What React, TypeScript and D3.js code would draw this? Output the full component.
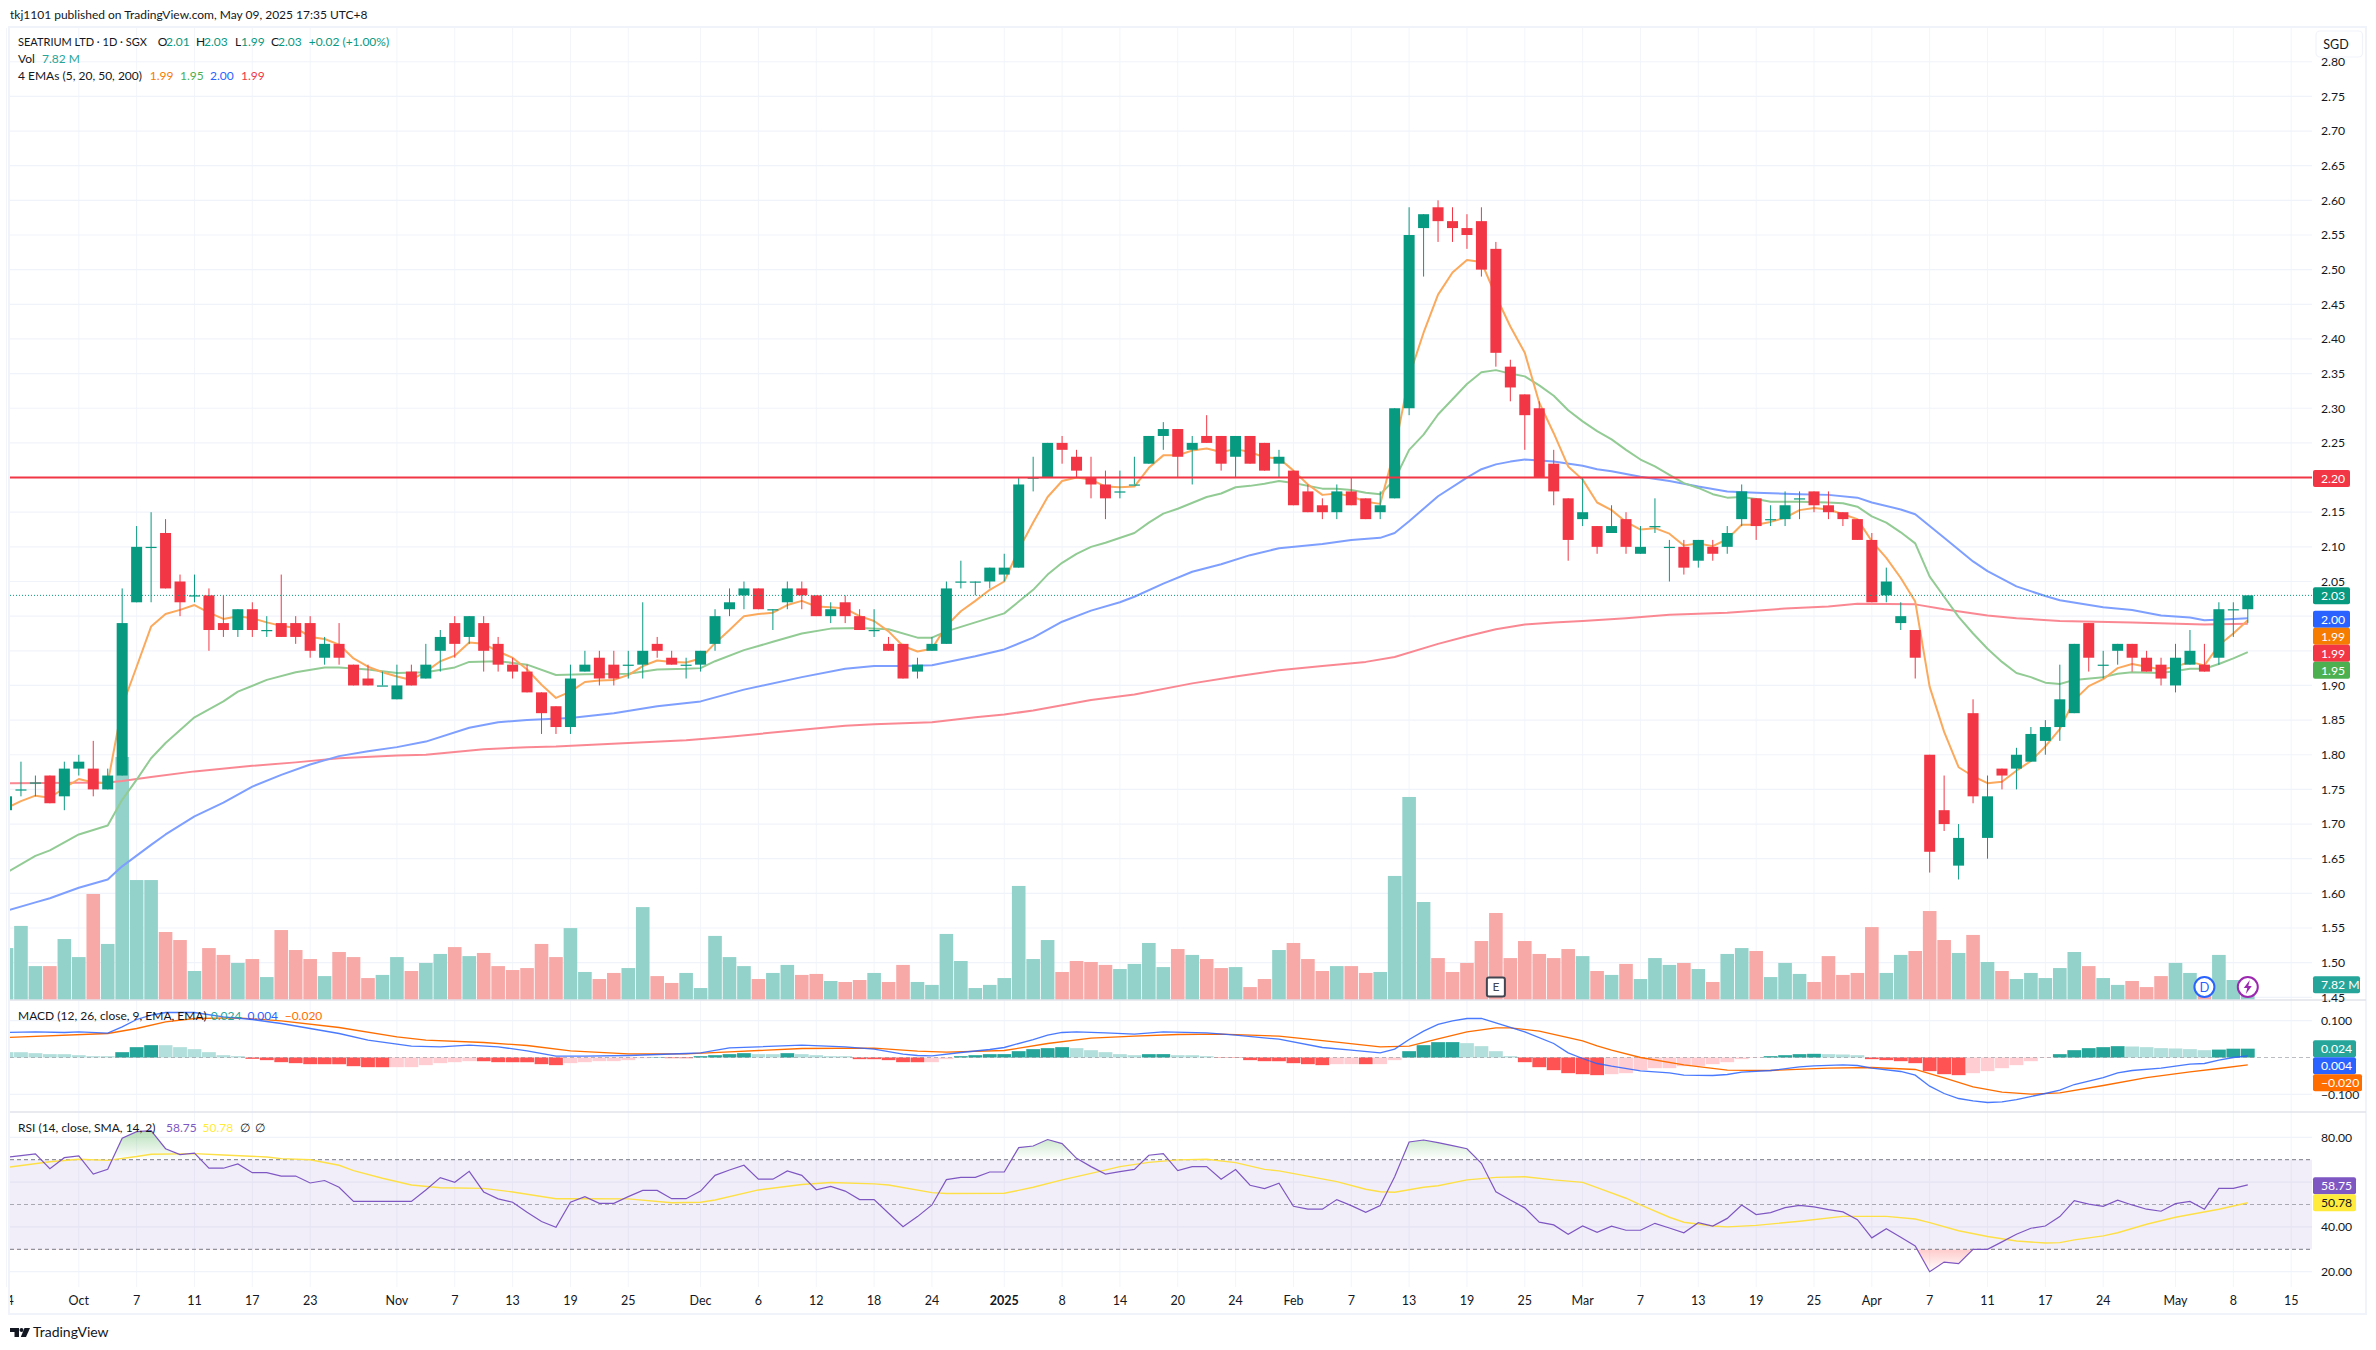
import { useEffect, useRef } from "react";
import * as d3 from "d3";

// daily candles, first bar is 24 Sep 2024, last is 9 May 2025
const opens = [1.72,1.75,1.76,1.77,1.74,1.78,1.78,1.75,1.77,2.02,2.10,2.12,2.05,2.03,2.03,1.99,1.98,2.01,1.98,1.99,1.99,1.99,1.94,1.96,1.93,1.91,1.90,1.88,1.92,1.91,1.95,1.99,1.97,1.99,1.96,1.93,1.92,1.89,1.87,1.84,1.92,1.94,1.93,1.93,1.93,1.96,1.94,1.93,1.93,1.96,2.01,2.03,2.04,2.01,2.02,2.04,2.03,2.00,2.02,2.00,1.98,1.96,1.96,1.92,1.95,1.96,2.05,2.05,2.05,2.06,2.07,2.20,2.20,2.25,2.23,2.20,2.19,2.18,2.19,2.22,2.26,2.27,2.24,2.26,2.26,2.23,2.26,2.25,2.22,2.21,2.18,2.16,2.15,2.18,2.17,2.15,2.17,2.30,2.56,2.59,2.57,2.56,2.57,2.53,2.36,2.32,2.30,2.22,2.17,2.14,2.13,2.12,2.14,2.09,2.13,2.10,2.10,2.08,2.10,2.10,2.14,2.17,2.14,2.14,2.17,2.18,2.16,2.15,2.14,2.11,2.03,1.99,1.98,1.80,1.72,1.64,1.86,1.68,1.78,1.78,1.79,1.82,1.84,1.86,1.99,1.93,1.95,1.96,1.94,1.93,1.90,1.93,1.93,1.94,2.01,2.01];
const highs = [1.74,1.79,1.77,1.77,1.79,1.80,1.82,1.78,2.04,2.13,2.15,2.14,2.06,2.06,2.04,2.03,2.01,2.02,2.00,2.06,2.00,2.00,1.97,1.99,1.93,1.93,1.92,1.93,1.93,1.96,1.98,2.00,2.00,2.00,1.97,1.94,1.93,1.89,1.87,1.93,1.95,1.95,1.95,1.95,2.02,1.97,1.95,1.94,1.95,2.01,2.04,2.05,2.04,2.01,2.05,2.05,2.03,2.02,2.03,2.01,2.01,1.97,1.96,1.94,1.97,2.05,2.08,2.05,2.07,2.09,2.20,2.23,2.25,2.26,2.24,2.23,2.21,2.21,2.23,2.26,2.28,2.27,2.26,2.29,2.26,2.26,2.26,2.25,2.24,2.21,2.19,2.17,2.19,2.20,2.17,2.18,2.30,2.59,2.58,2.60,2.59,2.58,2.59,2.54,2.37,2.32,2.31,2.24,2.17,2.20,2.13,2.16,2.15,2.13,2.17,2.11,2.11,2.11,2.11,2.13,2.19,2.17,2.16,2.18,2.18,2.18,2.18,2.15,2.14,2.12,2.07,2.02,1.98,1.80,1.77,1.70,1.88,1.77,1.78,1.81,1.84,1.85,1.93,1.96,1.99,1.95,1.96,1.96,1.95,1.94,1.96,1.98,1.96,2.02,2.02,2.03];
const lows = [1.72,1.74,1.74,1.73,1.72,1.77,1.74,1.75,1.77,2.02,2.02,2.04,2.00,2.02,1.95,1.97,1.97,1.97,1.97,1.97,1.96,1.94,1.93,1.93,1.90,1.90,1.90,1.88,1.90,1.91,1.92,1.94,1.96,1.92,1.92,1.91,1.89,1.83,1.83,1.83,1.92,1.90,1.90,1.91,1.91,1.94,1.93,1.91,1.92,1.95,2.00,2.01,2.01,1.98,2.01,2.01,2.00,1.99,1.99,1.98,1.97,1.95,1.91,1.91,1.95,1.96,2.04,2.03,2.04,2.05,2.07,2.18,2.20,2.22,2.20,2.17,2.14,2.17,2.19,2.22,2.24,2.20,2.19,2.25,2.21,2.20,2.22,2.21,2.20,2.16,2.15,2.14,2.14,2.16,2.14,2.14,2.17,2.29,2.49,2.54,2.54,2.53,2.49,2.36,2.31,2.24,2.20,2.16,2.08,2.13,2.09,2.12,2.09,2.09,2.12,2.05,2.06,2.07,2.08,2.09,2.13,2.11,2.13,2.13,2.14,2.15,2.14,2.13,2.11,2.02,2.02,1.98,1.91,1.63,1.69,1.62,1.73,1.65,1.75,1.75,1.79,1.80,1.82,1.86,1.92,1.91,1.93,1.92,1.92,1.90,1.89,1.93,1.92,1.93,1.97,1.99];
const closes = [1.74,1.75,1.76,1.73,1.78,1.79,1.75,1.77,1.99,2.10,2.10,2.04,2.02,2.03,1.98,1.98,2.01,1.98,1.98,1.97,1.97,1.95,1.96,1.94,1.90,1.90,1.90,1.90,1.90,1.93,1.97,1.96,2.00,1.95,1.93,1.92,1.89,1.86,1.84,1.91,1.93,1.91,1.91,1.93,1.95,1.95,1.93,1.93,1.95,2.00,2.02,2.04,2.01,2.01,2.04,2.03,2.00,2.01,2.00,1.98,1.98,1.95,1.91,1.93,1.96,2.04,2.05,2.05,2.07,2.07,2.19,2.20,2.25,2.24,2.21,2.19,2.17,2.18,2.19,2.26,2.27,2.23,2.25,2.25,2.22,2.26,2.22,2.21,2.23,2.16,2.15,2.15,2.18,2.16,2.14,2.16,2.30,2.55,2.58,2.57,2.56,2.55,2.50,2.38,2.33,2.29,2.20,2.18,2.11,2.15,2.10,2.13,2.10,2.10,2.13,2.10,2.07,2.11,2.09,2.12,2.18,2.13,2.14,2.16,2.17,2.16,2.15,2.14,2.11,2.02,2.05,2.00,1.94,1.66,1.70,1.68,1.74,1.74,1.77,1.80,1.83,1.84,1.88,1.96,1.94,1.93,1.96,1.94,1.92,1.91,1.94,1.95,1.92,2.01,2.01,2.03];

// volume in millions, one per bar
const volumes = [26.5,37.8,17.3,17.3,31.1,21.9,54.1,28.6,124,61.2,61.2,34.7,30.6,14.8,26.5,23,18.9,20.9,11.7,35.7,25.5,20.9,12.2,24.5,21.9,11.2,12.8,21.9,14.8,18.9,23.5,27,22.4,24,17.3,15.3,16.3,28.6,21.9,36.7,14.3,10.7,13.8,16.3,47.4,12.2,8.7,13.8,6.1,32.7,21.9,17.3,10.7,13.8,17.9,12.8,13.3,9.7,9.2,10.2,13.8,9.2,17.9,9.2,7.7,33.7,19.9,6.1,7.7,11.2,58.2,20.9,30.6,14.3,19.9,19.4,17.9,15.8,18.4,29.1,16.8,26,23,20.9,16.3,16.8,6.6,10.7,25.5,29.1,20.9,14.8,17.3,17.3,13.8,14.3,63.3,103.6,50,21.4,14.3,18.9,30.1,44.4,21.4,30.1,23.5,21.4,26,22.4,14.8,12.8,18.4,10.7,21.4,17.9,18.9,15.8,9.2,23.5,26.5,25,11.7,18.9,13.3,9.2,22.4,12.8,13.8,37.2,13.8,23,25,45.4,30.6,24,33.2,19.4,14.8,10.7,13.8,11.2,16.3,24.5,17.3,11.2,7.7,9.7,6.6,12.2,18.9,13.8,6.6,23,10.2,7.82];

const ema5 = [1.723,1.733,1.741,1.738,1.752,1.765,1.76,1.759,1.87,1.927,1.985,2.003,2.009,2.016,2.005,1.996,2.0,1.997,1.991,1.986,1.983,1.97,1.967,1.959,1.939,1.927,1.919,1.913,1.908,1.92,1.935,1.943,1.962,1.96,1.949,1.94,1.923,1.901,1.882,1.891,1.905,1.907,1.908,1.915,1.928,1.936,1.934,1.933,1.939,1.961,1.98,2.0,2.003,2.005,2.016,2.022,2.014,2.013,2.011,2.0,1.993,1.978,1.957,1.949,1.953,1.986,2.007,2.022,2.038,2.05,2.096,2.135,2.172,2.195,2.2,2.197,2.187,2.186,2.187,2.214,2.232,2.232,2.239,2.242,2.237,2.241,2.237,2.229,2.228,2.21,2.19,2.175,2.177,2.173,2.165,2.162,2.24,2.346,2.409,2.464,2.496,2.514,2.511,2.462,2.418,2.38,2.308,2.264,2.216,2.197,2.164,2.153,2.136,2.125,2.127,2.119,2.102,2.105,2.101,2.111,2.132,2.132,2.136,2.142,2.153,2.156,2.154,2.147,2.14,2.108,2.084,2.055,2.021,1.898,1.833,1.782,1.769,1.759,1.761,1.777,1.791,1.812,1.837,1.879,1.899,1.909,1.925,1.931,1.927,1.923,1.927,1.934,1.929,1.958,1.975,1.994];

const ema20Idx = [0,2,3,5,7,8,9,10,11,13,15,16,18,20,22,23,25,27,29,31,32,34,36,38,40,43,45,47,48,49,51,53,55,57,59,61,63,64,65,67,69,71,72,73,74,75,76,78,79,80,81,83,84,85,86,87,88,89,91,92,93,94,95,96,97,98,99,100,101,102,103,104,105,106,107,108,109,110,111,112,113,114,115,116,117,118,119,120,121,122,124,126,127,128,129,130,131,132,133,134,135,136,137,138,139,140,141,142,143,145,146,147,149,150,151,152,153,154,155];
const ema20 = [1.63,1.654,1.662,1.685,1.698,1.735,1.764,1.795,1.817,1.854,1.877,1.891,1.908,1.919,1.926,1.926,1.923,1.918,1.919,1.926,1.934,1.935,1.93,1.915,1.916,1.917,1.923,1.924,1.925,1.935,1.951,1.963,1.975,1.982,1.983,1.981,1.969,1.969,1.978,1.991,2.004,2.038,2.06,2.077,2.09,2.10,2.106,2.12,2.135,2.148,2.155,2.172,2.177,2.186,2.188,2.191,2.195,2.192,2.184,2.184,2.182,2.178,2.176,2.197,2.24,2.262,2.291,2.313,2.335,2.352,2.355,2.35,2.346,2.333,2.318,2.297,2.281,2.267,2.255,2.24,2.226,2.216,2.204,2.192,2.185,2.176,2.171,2.172,2.169,2.165,2.165,2.164,2.163,2.158,2.144,2.135,2.121,2.105,2.057,2.028,1.999,1.975,1.953,1.934,1.918,1.912,1.904,1.902,1.908,1.912,1.917,1.919,1.918,1.921,1.924,1.924,1.931,1.939,1.948];

const ema50Idx = [0,2,3,5,7,8,10,11,13,15,17,19,21,23,25,27,29,32,34,36,39,42,45,48,51,55,58,60,62,64,67,69,71,73,75,77,78,80,82,84,86,88,91,93,95,96,97,99,101,102,103,104,105,107,109,110,111,113,115,117,119,121,124,126,128,129,131,132,133,134,136,137,139,141,142,145,147,149,151,152,154,155];
const ema50 = [1.575,1.587,1.593,1.608,1.62,1.639,1.67,1.685,1.711,1.731,1.754,1.771,1.786,1.798,1.805,1.811,1.819,1.839,1.847,1.85,1.853,1.86,1.87,1.877,1.894,1.912,1.924,1.928,1.928,1.929,1.942,1.952,1.969,1.992,2.008,2.02,2.028,2.047,2.064,2.075,2.088,2.098,2.104,2.11,2.113,2.12,2.137,2.173,2.2,2.212,2.219,2.223,2.226,2.223,2.217,2.212,2.209,2.201,2.195,2.187,2.18,2.178,2.176,2.175,2.171,2.164,2.154,2.147,2.13,2.113,2.079,2.065,2.043,2.029,2.023,2.013,2.009,2.001,1.998,1.994,1.996,1.997];

const ema200Idx = [0,7,8,10,13,17,20,23,27,29,31,33,36,38,43,47,50,55,58,60,64,67,69,71,75,78,82,85,88,91,94,96,99,101,103,105,107,109,112,115,119,123,126,128,132,134,137,139,142,147,152,155];
const ema200 = [1.759,1.76,1.762,1.768,1.776,1.784,1.789,1.795,1.799,1.80,1.804,1.808,1.811,1.812,1.817,1.821,1.826,1.836,1.842,1.844,1.847,1.854,1.858,1.864,1.879,1.887,1.903,1.913,1.922,1.928,1.934,1.941,1.96,1.971,1.981,1.988,1.991,1.993,1.997,2.002,2.005,2.011,2.014,2.018,2.017,2.01,2.001,1.997,1.993,1.991,1.988,1.989];

// MACD pane, values in thousandths
const macdHist = [14.5,14.4,11.8,9.1,9.0,6.3,3.6,3.5,14.5,28.1,33.5,33.4,28.1,22.7,14.5,6.3,3.6,-3.6,-7.2,-12.7,-15.4,-18.1,-18.2,-18.3,-23.6,-26.3,-26.4,-26.3,-26.2,-20.8,-15.4,-12.7,-10,-10.1,-12.7,-12.8,-12.9,-18.1,-20.8,-15.4,-12.7,-10,-9.9,-7.2,-1.8,0.9,-1.8,-1.9,3.6,6.3,9.1,11.8,9.1,9.0,11.8,9.1,6.3,3.6,3.5,-4.5,-4.6,-7.2,-12.7,-12.8,-12.7,-4.5,3.6,6.3,9.1,9.2,17.2,22.7,25.4,28.1,25.4,19.9,14.5,9.1,6.3,9.1,9.2,6.3,6.2,3.6,-0.9,-1,-7.2,-10,-10.1,-15.4,-18.1,-20.8,-18.1,-18,-18.1,-18,-7.2,17.2,33.5,41.7,41.8,39,30.8,17.2,3.6,-12.7,-26.3,-34.4,-42.6,-45.3,-48,-45.3,-42.6,-34.4,-29,-28.9,-23.6,-22.7,-18.1,-12.7,-4.5,-0.9,3.6,6.3,9.1,10,9.1,8.2,6.3,-4.5,-7.2,-10,-15.4,-37.1,-45.3,-48,-42.6,-37.1,-29,-20.8,-10,-0.9,9.1,19.9,25.4,28.1,30.8,29.9,28.1,25.4,24.5,22.7,19.9,21.5,23.9,24];

const macdIdx = [0,2,4,5,7,8,9,10,11,13,15,17,19,21,23,25,27,28,30,32,34,36,38,40,43,45,47,48,50,52,55,58,60,62,63,64,66,68,69,71,72,73,74,76,78,80,83,85,88,91,93,95,96,97,98,99,100,101,102,103,105,107,108,109,110,111,113,115,116,118,119,120,122,124,125,127,128,129,131,132,133,134,135,136,137,138,139,141,142,143,145,146,147,149,151,152,153,154,155];
const macdLine = [68,69.8,68,69.8,66.1,83.4,103.3,115,122.3,122.3,110.5,103.3,92.4,78.8,65.2,47.1,36.2,30.8,29,33.5,29,18.1,3.6,3.6,5.4,8.2,10.9,12.7,26.3,29,33.5,29,22.7,9.1,5.4,4.5,13.6,21.7,27.2,48.9,60.7,68,69.8,67,63.4,69.8,67,60.7,49.8,27.2,19.9,12.7,22.7,48.9,71.6,89.7,99.7,106,106,94.2,69.8,38,12.7,-2.7,-16.3,-23.6,-36.2,-41.7,-48,-48.9,-46.2,-39.9,-35.3,-25.4,-22.7,-19.9,-21.7,-29,-38,-48,-77.9,-97.8,-111.4,-117.8,-122.3,-120.5,-114.2,-97.8,-88.8,-73.4,-54.4,-41.7,-35.3,-29,-18.1,-16.3,-7.2,0,4.5];

const signalIdx = [0,7,9,11,13,16,19,23,27,29,33,36,39,43,47,50,55,60,63,65,69,72,75,78,81,84,88,92,95,97,99,101,103,104,106,109,110,111,113,116,119,122,126,129,132,134,136,138,140,142,145,148,151,153,155];
const signalLine = [54.4,65.2,78.8,96.9,106,107.8,99.7,81.5,56.2,47.1,40.8,32.6,18.1,10,10,15.4,24.5,25.4,17.2,14.5,19,38,52.5,58,62.5,63.4,58,41.7,29,30.8,50.7,69.8,80.6,80.6,71.6,45.3,31.7,19.9,0,-19.9,-34.4,-35.3,-29,-27.2,-32.6,-55.3,-79.7,-94.2,-99.7,-96,-76.1,-54.4,-39,-29.9,-20];

// RSI pane
const rsi = [71.1,71.8,72.6,66,70.9,71.7,63.6,65.7,79.6,82.5,83,74.9,72.3,72.9,66.2,66.2,68.1,64.2,64.2,62.7,62.7,59.6,60.7,57.7,51.4,51.4,51.4,51.4,51.4,56.5,62,59.9,64.8,55.6,52.5,51,46.5,42.4,39.8,51,53.5,50.5,50.5,53.5,56.3,56.3,52.6,52.6,56,63,65.4,67.5,61.3,61.3,65,63,56.6,58.1,56,52.2,52.2,46.1,40.1,44.6,49.8,61.1,62.1,62.1,64.5,64.5,75.4,76.1,79,77.2,70.6,66.9,63.6,64.7,65.7,72,72.7,65.1,66.9,66.9,61.3,65.6,58.6,57.1,59.5,49.2,47.9,47.9,52.2,49.5,46.5,49.5,62.4,77.9,78.8,77.6,76.3,74.9,68.4,55.7,52,48.5,42.1,40.9,36.7,40.4,37.6,40.3,38.5,38.5,41.6,39.5,37.4,41.9,40.4,43.8,49.8,45.5,46.4,48.6,49.6,48.9,47.7,46.7,43.2,35.1,39.2,35.4,31.5,20,24.3,23.6,30,30,33.3,36.7,39.4,40.4,44.6,51.7,50.2,49.2,51.9,49.8,47.9,47,50.4,51.4,47.9,57.2,57.2,58.75];

const rsiMaIdx = [0,3,5,7,9,10,12,13,15,18,19,21,23,24,26,28,30,33,35,38,40,43,46,48,49,52,55,57,60,61,64,65,69,71,73,75,77,79,81,83,85,87,88,92,94,95,96,98,99,101,103,105,107,109,110,112,113,115,116,118,119,121,124,127,130,132,133,135,137,139,141,142,143,145,146,148,150,153,155];
const rsiMa = [66.5,69.1,70.2,69.7,71.4,72.4,72.6,72.7,72.1,71.2,70.5,70,67.5,65.1,61.7,58.7,57.5,57.2,55.6,52.6,52.6,52.5,50.8,51,52,56.5,58.9,59.8,59.2,58.7,55.3,54.9,55,57.7,61,63.9,66.9,68.8,69.9,70.2,68.7,65.7,65,60.2,56.8,55.7,55.5,57.7,58.4,61,62.1,62.4,61,59.9,57.5,52.8,49.8,44.3,42.1,40.4,40,40.7,42.5,44.7,44.7,43.5,41.9,38.3,35.7,33.7,32.8,33,34.2,36,37.4,41.2,44.3,47.9,50.78];

// axis labels
const priceTicks = [2.8,2.75,2.7,2.65,2.6,2.55,2.5,2.45,2.4,2.35,2.3,2.25,2.2,2.15,2.1,2.05,2.0,1.95,1.9,1.85,1.8,1.75,1.7,1.65,1.6,1.55,1.5,1.45];
const macdTicks = [100,-100];
const rsiTicks = [80,60,40,20];
const timeIdx = [0,5,9,13,17,21,27,31,35,39,43,48,52,56,60,64,69,73,77,81,85,89,93,97,101,105,109,113,117,121,125,129,133,137,141,145,150,154,158];
const timeLabels = ["24","Oct","7","11","17","23","Nov","7","13","19","25","Dec","6","12","18","24","2025","8","14","20","24","Feb","7","13","19","25","Mar","7","13","19","25","Apr","7","11","17","24","May","8","15"];

const FONT = "Lato, sans-serif";
const UP = "#089981";
const DOWN = "#F23645";
const INK = "#131722";

export default function App() {
  const svgRef = useRef<SVGSVGElement>(null);

  useEffect(() => {
    if (!svgRef.current) return;
    const width = 2376;
    const height = 1350;
    const left = 10;
    const right = 2312;
    const top = 28;
    const mainBottom = 1000;
    const macdBottom = 1112;
    const timeTop = 1287;
    const frameRight = 2366;
    const frameBottom = 1314;

    const svg = d3.select(svgRef.current).attr("viewBox", `0 0 ${width} ${height}`);
    svg.selectAll("*").remove();
    svg.append("rect").attr("width", width).attr("height", height).attr("fill", "#fff");

    const x = d3.scaleLinear().domain([0, 155]).range([6.5, 2247.8]);
    const y = d3.scaleLinear().domain([2.65, 1.45]).range([165.7, 997.3]);
    const yVol = d3.scaleLinear().domain([0, 124]).range([mainBottom, 757]);
    const yMacd = d3.scaleLinear().domain([100, -100]).range([1020.7, 1094.3]);
    const yRsi = d3.scaleLinear().domain([80, 20]).range([1137.3, 1271.7]);

    const defs = svg.append("defs");
    const clipRect = (id: string, y0: number, y1: number) =>
      defs.append("clipPath").attr("id", id).append("rect")
        .attr("x", left).attr("y", y0).attr("width", right - left).attr("height", y1 - y0);
    clipRect("main", top, mainBottom);
    clipRect("macd", mainBottom, macdBottom);
    clipRect("rsi", macdBottom, timeTop);
    clipRect("over", macdBottom, yRsi(70));
    clipRect("under", yRsi(30), timeTop);
    defs.append("clipPath").attr("id", "timeaxis").append("rect")
      .attr("x", left).attr("y", timeTop).attr("width", frameRight - left).attr("height", frameBottom - timeTop);

    const grad = (id: string, y0: number, y1: number, color: string, a0: number, a1: number) => {
      const g = defs.append("linearGradient").attr("id", id)
        .attr("gradientUnits", "userSpaceOnUse")
        .attr("x1", 0).attr("x2", 0).attr("y1", y0).attr("y2", y1);
      g.append("stop").attr("offset", 0).attr("stop-color", color).attr("stop-opacity", a0);
      g.append("stop").attr("offset", 1).attr("stop-color", color).attr("stop-opacity", a1);
    };
    grad("overFill", yRsi(84), yRsi(70), "#4CAF50", 0.42, 0);
    grad("underFill", yRsi(30), yRsi(20), "#FF5252", 0.3, 0);

    const text = (g: any, tx: number, ty: number, s: string, color: string, size = 12, anchor = "start") =>
      g.append("text")
        .attr("x", tx).attr("y", ty)
        .attr("dy", "0.35em")
        .attr("fill", color)
        .attr("font-size", size)
        .attr("font-family", FONT)
        .attr("text-anchor", anchor)
        .text(s);

    // grid
    const grid = svg.append("g");
    grid.selectAll("line.v").data(timeIdx).enter().append("line")
      .attr("x1", (d) => x(d)).attr("x2", (d) => x(d))
      .attr("y1", top).attr("y2", timeTop)
      .attr("stroke", "#F3F5F9").attr("stroke-width", 1);
    const hGrid = (vals: number[], sc: any) =>
      grid.selectAll(null).data(vals).enter().append("line")
        .attr("x1", left).attr("x2", right)
        .attr("y1", (d) => sc(d)).attr("y2", (d) => sc(d))
        .attr("stroke", "#F0F3FA").attr("stroke-width", 1.2);
    hGrid(priceTicks, y);
    hGrid(macdTicks, yMacd);
    hGrid(rsiTicks, yRsi);

    // volume
    const main = svg.append("g").attr("clip-path", "url(#main)");
    main.selectAll("rect.vol").data(volumes).enter().append("rect")
      .attr("x", (_, i) => x(i) - 6.8).attr("width", 13.6)
      .attr("y", (d) => yVol(d)).attr("height", (d) => mainBottom - yVol(d))
      .attr("fill", (_, i) => (closes[i] >= opens[i] ? "#92D2CA" : "#F7A9A7"));

    // EMAs sit under the candles
    const lineOf = (idx: number[], vals: number[], sy: any) =>
      d3.line<number>().x((_, i) => x(idx[i])).y((d) => sy(d))(vals);
    const barIdx = closes.map((_, i) => i);
    const emaStyles: [number[], number[], string][] = [
      [barIdx, ema5, "#FBA95C"],
      [ema20Idx, ema20, "#92CB94"],
      [ema50Idx, ema50, "#7E9FFF"],
      [ema200Idx, ema200, "#FA8893"],
    ];
    emaStyles.slice().reverse().forEach(([idx, vals, color]) => {
      main.append("path").attr("d", lineOf(idx, vals, y))
        .attr("fill", "none").attr("stroke", color).attr("stroke-width", 2)
        .attr("stroke-linejoin", "round");
    });

    // candles
    const candle = main.selectAll("g.c").data(closes).enter().append("g");
    const colorOf = (i: number) => (closes[i] >= opens[i] ? UP : DOWN);
    candle.append("line")
      .attr("x1", (_, i) => x(i)).attr("x2", (_, i) => x(i))
      .attr("y1", (_, i) => y(highs[i])).attr("y2", (_, i) => y(lows[i]))
      .attr("stroke", (_, i) => colorOf(i)).attr("stroke-width", 1);
    candle.append("rect")
      .attr("x", (_, i) => x(i) - 5.5).attr("width", 11)
      .attr("y", (_, i) => y(Math.max(opens[i], closes[i])))
      .attr("height", (_, i) => Math.max(1.2, Math.abs(y(opens[i]) - y(closes[i]))))
      .attr("fill", (_, i) => colorOf(i));

    // horizontal at 2.20 and last price
    main.append("line").attr("x1", left).attr("x2", right).attr("y1", y(2.2)).attr("y2", y(2.2))
      .attr("stroke", DOWN).attr("stroke-width", 2);
    main.append("line").attr("x1", left).attr("x2", right).attr("y1", y(2.03)).attr("y2", y(2.03))
      .attr("stroke", UP).attr("stroke-width", 1).attr("stroke-dasharray", "1 2");

    // event markers on the volume pane
    const marks = svg.append("g");
    marks.append("rect").attr("x", x(103) - 9).attr("y", 977.5).attr("width", 18).attr("height", 19).attr("rx", 2)
      .attr("fill", "#fff").attr("stroke", "#434651").attr("stroke-width", 2);
    text(marks, x(103), 987, "E", "#434651", 12, "middle");
    marks.append("circle").attr("cx", x(152)).attr("cy", 987).attr("r", 10)
      .attr("fill", "#fff").attr("stroke", "#2962FF").attr("stroke-width", 2);
    text(marks, x(152), 987, "D", "#2962FF", 13, "middle");
    marks.append("circle").attr("cx", x(155)).attr("cy", 987).attr("r", 10)
      .attr("fill", "#fff").attr("stroke", "#9C27B0").attr("stroke-width", 2);
    marks.append("path")
      .attr("transform", `translate(${x(155)},987)`)
      .attr("d", "M2,-7 L-4,1 L-0.5,1 L-2,7 L4,-1 L0.5,-1 Z")
      .attr("fill", "#9C27B0");

    // MACD
    const macd = svg.append("g").attr("clip-path", "url(#macd)");
    macd.selectAll("rect").data(macdHist).enter().append("rect")
      .attr("x", (_, i) => x(i) - 6.9).attr("width", 13.8)
      .attr("y", (d) => Math.min(yMacd(d), yMacd(0)))
      .attr("height", (d) => Math.abs(yMacd(d) - yMacd(0)))
      .attr("fill", (d, i) => {
        const prev = i === 0 ? d + 1 : macdHist[i - 1];
        if (d >= 0) return d >= prev ? "#26A69A" : "#B2DFDB";
        return d < prev ? "#FF5252" : "#FFCDD2";
      });
    macd.append("line").attr("x1", left).attr("x2", right).attr("y1", yMacd(0)).attr("y2", yMacd(0))
      .attr("stroke", "#787B86").attr("stroke-opacity", 0.5).attr("stroke-dasharray", "4 3");
    macd.append("path").attr("d", lineOf(signalIdx, signalLine, yMacd))
      .attr("fill", "none").attr("stroke", "#FF6D00").attr("stroke-width", 1.3);
    macd.append("path").attr("d", lineOf(macdIdx, macdLine, yMacd))
      .attr("fill", "none").attr("stroke", "#2962FF").attr("stroke-width", 1.3).attr("stroke-opacity", 0.85);

    // RSI
    const rsiG = svg.append("g").attr("clip-path", "url(#rsi)");
    rsiG.append("rect").attr("x", left).attr("width", right - left)
      .attr("y", yRsi(70)).attr("height", yRsi(30) - yRsi(70))
      .attr("fill", "#7E57C2").attr("fill-opacity", 0.1);
    const rsiArea = (base: number) =>
      d3.area<number>().x((_, i) => x(i)).y0(yRsi(base)).y1((d) => yRsi(d))(rsi);
    rsiG.append("g").attr("clip-path", "url(#over)").append("path")
      .attr("d", rsiArea(70)).attr("fill", "url(#overFill)");
    rsiG.append("g").attr("clip-path", "url(#under)").append("path")
      .attr("d", rsiArea(30)).attr("fill", "url(#underFill)");
    [70, 50, 30].forEach((lv) => {
      rsiG.append("line").attr("x1", left).attr("x2", right).attr("y1", yRsi(lv)).attr("y2", yRsi(lv))
        .attr("stroke", "#787B86").attr("stroke-opacity", lv === 50 ? 0.6 : 1)
        .attr("stroke-dasharray", "4 3").attr("stroke-width", 1);
    });
    rsiG.append("path").attr("d", lineOf(rsiMaIdx, rsiMa, yRsi))
      .attr("fill", "none").attr("stroke", "#FDE047").attr("stroke-width", 1.4);
    rsiG.append("path").attr("d", lineOf(barIdx, rsi, yRsi))
      .attr("fill", "none").attr("stroke", "#7E57C2").attr("stroke-width", 1.2);

    // frame and pane separators
    const frame = svg.append("g");
    frame.append("rect").attr("x", 9).attr("y", 27).attr("width", frameRight - 9).attr("height", frameBottom - 27)
      .attr("fill", "none").attr("stroke", "#F0F3FA").attr("stroke-width", 2);
    [mainBottom, macdBottom].forEach((py) => {
      frame.append("line").attr("x1", left).attr("x2", frameRight).attr("y1", py).attr("y2", py)
        .attr("stroke", "#E0E3EB").attr("stroke-width", 1.5);
    });

    // right axis
    const axis = svg.append("g");
    const axisX = 2321;
    priceTicks.forEach((p) => text(axis, axisX, y(p), p.toFixed(2), INK, 12.2));
    macdTicks.forEach((m) => text(axis, axisX, yMacd(m), (m / 1000).toFixed(3).replace("-", "−"), INK, 12.2));
    [80, 40, 20].forEach((r) => text(axis, axisX, yRsi(r), r.toFixed(2), INK, 12.2));

    axis.append("rect").attr("x", 2316).attr("y", 31).attr("width", 46.5).attr("height", 26).attr("rx", 4)
      .attr("fill", "#fff").attr("stroke", "#F0F3FA").attr("stroke-width", 1.2);
    text(axis, 2336, 44.5, "SGD", INK, 12.5, "middle");

    const tag = (cy: number, s: string, bg: string, w = 37, fg = "#fff") => {
      axis.append("rect").attr("x", 2313).attr("y", cy - 8.5).attr("width", w).attr("height", 17)
        .attr("rx", 2).attr("fill", bg);
      text(axis, axisX, cy, s, fg, 12.2);
    };
    tag(478.6, "2.20", DOWN);
    tag(595.7, "2.03", UP);
    tag(619.3, "2.00", "#2962FF");
    tag(636.3, "1.99", "#F57C00");
    tag(653.3, "1.99", DOWN);
    tag(670.3, "1.95", "#4CAF50");
    tag(984.7, "7.82 M", "#26A69A", 47);
    tag(1048.7, "0.024", "#26A69A", 43);
    tag(1065.7, "0.004", "#2962FF", 43);
    tag(1082.7, "−0.020", "#FF6D00", 49);
    tag(1185.7, "58.75", "#7E57C2", 43);
    tag(1202.7, "50.78", "#FFEB3B", 43, INK);

    // time axis
    const tAxis = svg.append("g").attr("clip-path", "url(#timeaxis)");
    timeIdx.forEach((idx, i) => {
      const label = timeLabels[i];
      const t = text(tAxis, x(idx), 1300.7, label, INK, 12.5, "middle");
      if (label === "2025") t.attr("font-weight", 700);
    });

    // legends
    const legend = svg.append("g");
    text(legend, 10, 15, "tkj1101 published on TradingView.com, May 09, 2025 17:35 UTC+8", INK);
    const l1 = 42;
    text(legend, 18, l1, "SEATRIUM LTD · 1D · SGX", INK, 11);
    [["O", 157.7, "2.01", 166], ["H", 196, "2.03", 204], ["L", 235, "1.99", 241], ["C", 271, "2.03", 278]].forEach((o: any) => {
      text(legend, o[1], l1, o[0], INK);
      text(legend, o[3], l1, o[2], UP);
    });
    text(legend, 308.7, l1, "+0.02 (+1.00%)", UP);
    text(legend, 18, 58.7, "Vol", INK);
    text(legend, 42, 58.7, "7.82 M", "#26A69A");
    text(legend, 18, 76, "4 EMAs (5, 20, 50, 200)", INK);
    text(legend, 149.7, 76, "1.99", "#F57C00");
    text(legend, 180, 76, "1.95", "#4CAF50");
    text(legend, 210, 76, "2.00", "#2962FF");
    text(legend, 241, 76, "1.99", DOWN);
    text(legend, 18, 1015.7, "MACD (12, 26, close, 9, EMA, EMA)", INK);
    text(legend, 210.7, 1015.7, "0.024", "#26A69A");
    text(legend, 247.4, 1015.7, "0.004", "#2962FF");
    text(legend, 284.7, 1015.7, "−0.020", "#FF6D00");
    text(legend, 18, 1127.7, "RSI (14, close, SMA, 14, 2)", INK);
    text(legend, 166, 1127.7, "58.75", "#7E57C2");
    text(legend, 202.6, 1127.7, "50.78", "#FFEB3B");
    text(legend, 240, 1127.7, "∅", INK);
    text(legend, 255, 1127.7, "∅", INK);

    // logo
    const logo = svg.append("g").attr("fill", INK);
    logo.append("path").attr("d", "M10 1328h9v9h-4.5v-5H10z");
    logo.append("circle").attr("cx", 21.5).attr("cy", 1330).attr("r", 2);
    logo.append("path").attr("d", "M24.5 1328H30l-4 9h-5.2z");
    text(logo, 33, 1332.5, "TradingView", INK, 14);
  }, []);

  return <svg ref={svgRef} width={2376} height={1350} style={{ position: "absolute", left: 0, top: 0 }}></svg>;
}
